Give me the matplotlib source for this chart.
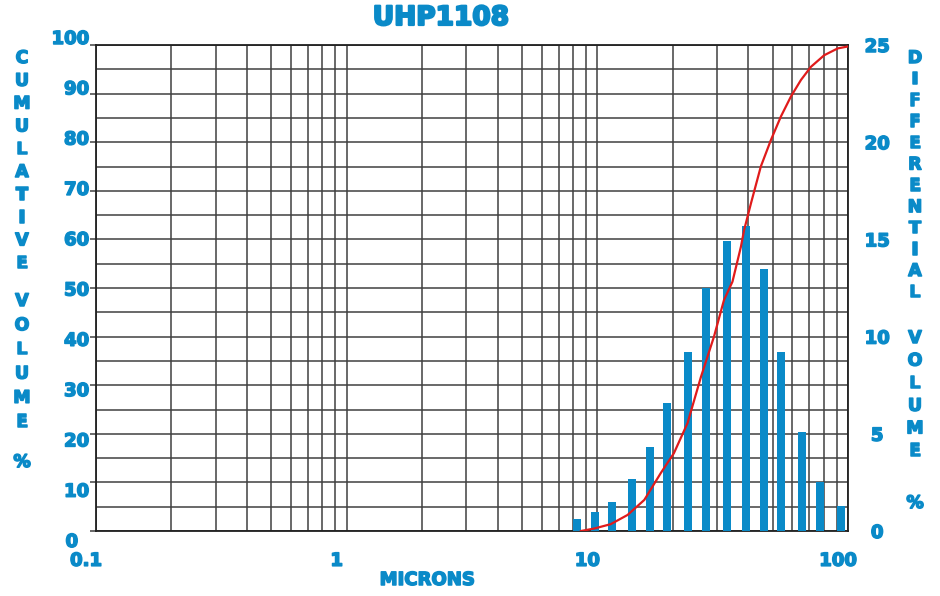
import matplotlib
matplotlib.use('Agg')
import numpy as np
import matplotlib.pyplot as plt
import matplotlib.transforms as mtransforms
import matplotlib.patheffects as pe
from matplotlib.ticker import LogLocator, NullFormatter

# ============================================
# DADOS (lidos do gráfico UHP1108)
# ============================================
# histograma diferencial (% volume, eixo direito)
bar_microns = [8.3, 9.75, 11.4, 13.7, 16.2, 18.9, 23.1, 27.1, 32.9, 39.3,
               46.1, 54.0, 65.5, 77.4, 93.8]
bar_volume = [0.6, 1.0, 1.5, 2.7, 4.3, 6.6, 9.2, 12.5, 14.9, 15.7,
              13.5, 9.2, 5.1, 2.5, 1.3]

# curva cumulativa (% volume, eixo esquerdo)
cum_microns = [8.6, 9.7, 11.3, 13.2, 15.4, 17.9, 20.2, 22.9, 25.9, 29.2,
               32.0, 34.6, 37.4, 38.5, 41.0, 44.9, 49.3, 54.0, 59.2, 64.9,
               71.1, 80.4, 91.0, 100]
cum_volume = [0, 0.5, 1.4, 3.3, 6.4, 11.9, 16, 22.2, 31.7, 40,
              47.5, 51.3, 58.5, 61.9, 67.4, 75, 80.5, 85.3, 89.4, 92.8,
              95.5, 97.9, 99.3, 99.7]

x_major = [0.1, 1, 10, 100]
x_labels = ['0.1', '1', '10', '100']
left_ticks = list(range(0, 101, 10))
right_ticks = list(range(0, 26, 5))

BLUE = '#0a8ac8'
RED = '#e01b1b'
GRID = '#404040'

plt.rcParams['font.family'] = 'DejaVu Sans'
plt.rcParams['font.weight'] = 'bold'

# traço extra para deixar o texto mais "pesado" (tipo Arial Black)
heavy = [pe.withStroke(linewidth=1.1, foreground=BLUE)]

W, H = 940, 596
fig = plt.figure(figsize=(W / 100, H / 100), dpi=100)


def box(x0, y0, x1, y1):
    # pixels (origem no topo) -> fração da figura
    return [x0 / W, 1 - y1 / H, (x1 - x0) / W, (y1 - y0) / H]


# ============================================
# EIXO PRINCIPAL: grade + eixo esquerdo
# ============================================
ax = fig.add_axes(box(96, 45, 848, 531))
ax.set_xscale('log')
ax.set_xticks(x_major, x_labels)
ax.xaxis.set_minor_locator(LogLocator(base=10, subs=np.arange(2, 10)))
ax.xaxis.set_minor_formatter(NullFormatter())
ax.set_yticks(left_ticks, [''] * len(left_ticks))
ax.set_yticks(np.arange(5, 100, 10), minor=True)
ax.grid(True, which='both', color=GRID, lw=1.1)
ax.set_axisbelow(True)
ax.tick_params(axis='x', which='both', length=0, pad=15, labelsize=13, labelcolor=BLUE)
ax.tick_params(axis='y', which='major', length=4, width=1.1, color=GRID)
ax.tick_params(axis='y', which='minor', length=0)
for s in ax.spines.values():
    s.set_color('#202020')
    s.set_linewidth(1.3)

# rótulos do eixo x deslocados um pouco para a esquerda (como no original)
shift = mtransforms.ScaledTranslation(-0.10, 0, fig.dpi_scale_trans)
for lbl in ax.get_xticklabels():
    lbl.set_transform(lbl.get_transform() + shift)
    lbl.set_path_effects(heavy)

# rótulos do eixo esquerdo (escala ligeiramente mais alta que a grade)
lab = fig.add_axes(box(96, 37, 848, 540))
lab.set_ylim(0, 100)
lab.set_yticks(left_ticks, [str(t) for t in left_ticks])
lab.tick_params(axis='y', length=0, pad=5, labelsize=13, labelcolor=BLUE)
lab.xaxis.set_visible(False)
lab.patch.set_visible(False)
for s in lab.spines.values():
    s.set_visible(False)
for lbl in lab.get_yticklabels():
    lbl.set_path_effects(heavy)
zero = lab.get_yticklabels()[0]
zero.set_transform(zero.get_transform() + mtransforms.ScaledTranslation(-0.11, 0, fig.dpi_scale_trans))

# ============================================
# EIXO DIREITO: barras diferenciais
# ============================================
ax2 = ax.twinx()
c = np.array(bar_microns)
half = 10 ** 0.016  # meia largura da barra em décadas
ax2.bar(c / half, bar_volume, width=c * half - c / half, align='edge', color=BLUE)
ax2.set_ylim(0, 25)
ax2.set_yticks(right_ticks)
ax2.tick_params(axis='y', length=0, pad=21, labelsize=13, labelcolor=BLUE)
for lbl in ax2.get_yticklabels():
    lbl.set_horizontalalignment('center')
    lbl.set_path_effects(heavy)
for s in ax2.spines.values():
    s.set_visible(False)

# ============================================
# CURVA CUMULATIVA (por cima das barras)
# ============================================
ax3 = fig.add_axes(ax.get_position(), sharex=ax, sharey=ax)
ax3.plot(cum_microns, cum_volume, color=RED, lw=1.6)
ax3.axis('off')

ax.set_xlim(0.1, 100)
ax.set_ylim(0, 100)

# ============================================
# TEXTOS
# ============================================
fig.text(441 / W, 1 - 18 / H, 'UHP1108', ha='center', va='center',
         fontsize=19, color=BLUE, fontweight='bold',
         path_effects=[pe.withStroke(linewidth=1.6, foreground=BLUE)])
fig.text(427 / W, 1 - 580 / H, 'MICRONS', ha='center', va='center',
         fontsize=13, color=BLUE, fontweight='bold', path_effects=heavy)

# títulos verticais, letra por letra: (palavra, y inicial, passo)
left_words = [('CUMULATIVE', 58, 22.8), ('VOLUME', 301, 24.2), ('%', 462, 0)]
right_words = [('DIFFERENTIAL', 58, 21.3), ('VOLUME', 338, 22.6), ('%', 503, 0)]

for xpos, words in [(22, left_words), (915, right_words)]:
    for word, y0, step in words:
        for i, ch in enumerate(word):
            fig.text(xpos / W, 1 - (y0 + i * step) / H, ch, ha='center', va='center',
                     fontsize=12.5, color=BLUE, fontweight='bold', path_effects=heavy)

plt.savefig('out.png', dpi=100)
